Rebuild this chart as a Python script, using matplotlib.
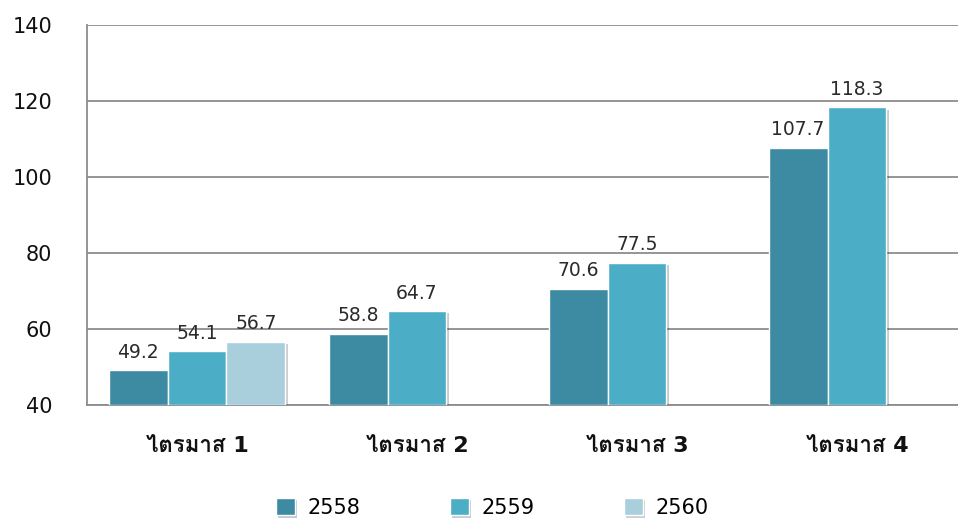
import matplotlib
matplotlib.use("Agg")
import matplotlib.pyplot as plt
import matplotlib.patheffects as pe
import numpy as np

plt.rcParams['font.family'] = ['DejaVu Sans', 'Loma']

# data
quarters = ["ไตรมาส 1", "ไตรมาส 2", "ไตรมาส 3", "ไตรมาส 4"]
years = ["2558", "2559", "2560"]
v2558 = [49.2, 58.8, 70.6, 107.7]
v2559 = [54.1, 64.7, 77.5, 118.3]
v2560 = [56.7, None, None, None]
series = [v2558, v2559, v2560]
colors = ["#3d8aa3", "#4badc6", "#a9cfdd"]

fig = plt.figure(figsize=(9.58, 5.2), dpi=100)
ax = fig.add_axes([87/958, 115/520, 880/958, 380/520])

x = np.arange(len(quarters))
w = 0.268
shadow = [pe.SimplePatchShadow(offset=(1.5, -1.5), alpha=0.25), pe.Normal()]
for i, (vals, col, yr) in enumerate(zip(series, colors, years)):
    xs = [xx + (i - 1) * w for xx, v in zip(x, vals) if v is not None]
    hs = [v - 40 for v in vals if v is not None]
    bars = ax.bar(xs, hs, w, bottom=40, color=col, edgecolor="white",
                  linewidth=1, label=yr, zorder=3)
    for b in bars:
        b.set_path_effects(shadow)
    for xx, h in zip(xs, hs):
        ax.annotate(f"{h + 40:.1f}", (xx, h + 40), xytext=(0, 6),
                    textcoords="offset points", ha="center", va="bottom",
                    fontsize=13.5, color="#2a2a2a", zorder=4)

ax.set_xlim(-0.5, 3.5)
ax.set_ylim(40, 140)
ax.set_yticks(range(40, 141, 20))
ax.set_xticks(x)
ax.set_xticklabels(quarters, fontweight="bold")
ax.tick_params(axis="y", length=0, pad=25, labelsize=15, labelcolor="#111111")
ax.tick_params(axis="x", length=0, pad=22, labelsize=16, labelcolor="#111111")
ax.grid(axis="y", color="#8c8c8c", linewidth=1.3, zorder=0)
for s in ["top", "right"]:
    ax.spines[s].set_visible(False)
for s in ["left", "bottom"]:
    ax.spines[s].set_color("#8c8c8c")
    ax.spines[s].set_linewidth(1.3)

fig.legend(loc="center", bbox_to_anchor=(0.514, 12/520), ncol=3,
           frameon=False, prop={"size": 15},
           handlelength=0.9, handleheight=0.9, columnspacing=4.3,
           handletextpad=0.6, borderpad=0)

fig.savefig("out.png", dpi=100)
